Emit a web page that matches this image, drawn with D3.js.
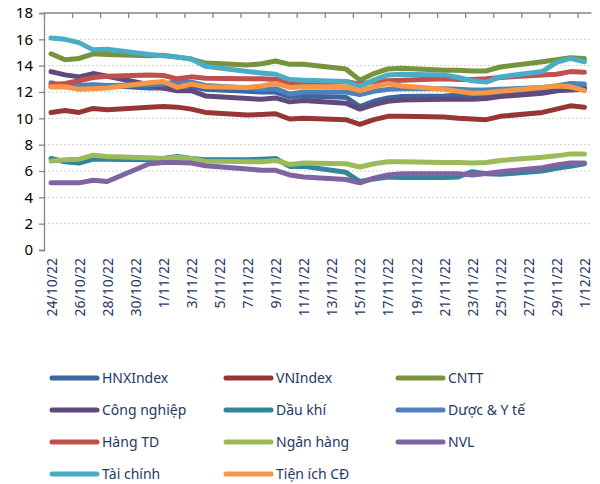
<!DOCTYPE html>
<html>
<head>
<meta charset="utf-8">
<script src="https://cdn.jsdelivr.net/npm/d3@7"></script>
<style>
  html, body { margin: 0; padding: 0; background: #ffffff; }
  svg { display: block; }
</style>
</head>
<body>
<svg id="chart" width="600" height="484"></svg>
<script>
// ---------- DATA ----------
const tradingDates = [
  "2022-10-24","2022-10-25","2022-10-26","2022-10-27","2022-10-28",
  "2022-10-31","2022-11-01","2022-11-02","2022-11-03","2022-11-04",
  "2022-11-07","2022-11-08","2022-11-09","2022-11-10","2022-11-11",
  "2022-11-14","2022-11-15","2022-11-16","2022-11-17","2022-11-18",
  "2022-11-21","2022-11-22","2022-11-23","2022-11-24","2022-11-25",
  "2022-11-28","2022-11-29","2022-11-30","2022-12-01"
];

const seriesNames = ["HNXIndex","VNIndex","CNTT","Công nghiệp","Dầu khí","Dược & Y tế",
  "Hàng TD","Ngân hàng","NVL","Tài chính","Tiện ích CĐ"];

const hnxIndex   = [12.4,12.4,12.5,12.55,12.5,12.3,12.3,12.6,12.4,12.2,12.05,12.0,12.0,11.65,11.7,11.6,10.9,11.3,11.55,11.65,11.7,11.75,11.75,11.8,11.85,12.0,12.1,12.3,12.35];
const vnIndex    = [10.45,10.6,10.45,10.75,10.65,10.85,10.9,10.85,10.7,10.45,10.25,10.3,10.35,9.95,10.0,9.9,9.55,9.9,10.15,10.15,10.1,10.0,9.95,9.9,10.15,10.45,10.7,10.95,10.85];
const cntt       = [14.9,14.45,14.55,14.9,14.85,14.75,14.8,14.65,14.5,14.2,14.05,14.15,14.35,14.1,14.1,13.75,12.9,13.4,13.75,13.8,13.65,13.65,13.6,13.6,13.9,14.3,14.45,14.6,14.55];
const congNghiep = [13.55,13.3,13.15,13.4,13.2,12.55,12.3,12.1,12.1,11.7,11.5,11.45,11.55,11.25,11.35,11.15,10.7,11.05,11.3,11.4,11.45,11.45,11.45,11.5,11.65,11.9,12.1,12.15,12.2];
const dauKhi     = [6.95,6.7,6.6,6.9,6.9,6.85,6.95,7.1,6.95,6.85,6.85,6.9,6.95,6.35,6.35,5.9,5.2,5.4,5.55,5.5,5.5,5.55,5.95,5.8,5.75,6.0,6.2,6.35,6.55];
const duocYTe    = [12.7,12.45,12.5,12.5,12.5,12.55,12.6,12.8,12.75,12.5,12.3,12.2,12.25,11.85,12.0,12.0,11.8,12.05,12.2,12.25,12.25,12.2,12.15,12.15,12.2,12.35,12.45,12.65,12.6];
const hangTD     = [12.55,12.65,12.85,13.1,13.2,13.3,13.25,13.0,13.15,13.05,13.0,13.0,12.95,12.6,12.6,12.8,12.6,12.8,12.85,12.9,13.0,12.95,12.95,13.0,13.1,13.3,13.35,13.55,13.5];
const nganHang   = [6.75,6.85,6.9,7.2,7.1,7.0,6.95,7.05,6.95,6.75,6.7,6.7,6.8,6.5,6.6,6.55,6.3,6.55,6.7,6.7,6.65,6.65,6.6,6.65,6.8,7.05,7.15,7.3,7.3];
const nvl        = [5.1,5.1,5.1,5.3,5.2,6.55,6.65,6.65,6.6,6.4,6.15,6.05,6.05,5.7,5.55,5.35,5.1,5.45,5.7,5.8,5.8,5.8,5.7,5.8,5.95,6.25,6.45,6.6,6.6];
const taiChinh   = [16.1,16.0,15.75,15.2,15.25,14.85,14.75,14.65,14.5,13.95,13.55,13.45,13.35,12.95,12.9,12.8,12.45,12.9,13.3,13.35,13.3,13.1,12.85,12.75,13.15,13.55,14.25,14.55,14.3];
const tienIchCD  = [12.4,12.4,12.2,12.25,12.3,12.7,12.8,12.35,12.6,12.4,12.35,12.45,12.65,12.35,12.4,12.4,12.1,12.4,12.65,12.45,12.2,12.05,11.9,11.95,12.05,12.35,12.45,12.4,12.1];

const seriesColors = ["#3C669E","#953735","#77933C","#604A7B","#31859C","#4F81BD",
  "#C0504D","#9BBB59","#8064A2","#4BACC6","#F79646"];

const xTickDates = ["2022-10-24","2022-10-26","2022-10-28","2022-10-30","2022-11-01",
  "2022-11-03","2022-11-05","2022-11-07","2022-11-09","2022-11-11","2022-11-13",
  "2022-11-15","2022-11-17","2022-11-19","2022-11-21","2022-11-23","2022-11-25",
  "2022-11-27","2022-11-29","2022-12-01"];
const xTickLabels = ["24/10/22","26/10/22","28/10/22","30/10/22","1/11/22","3/11/22",
  "5/11/22","7/11/22","9/11/22","11/11/22","13/11/22","15/11/22","17/11/22","19/11/22",
  "21/11/22","23/11/22","25/11/22","27/11/22","29/11/22","1/12/22"];
const yTicks = [0,2,4,6,8,10,12,14,16,18];

// ---------- BUILD ----------
const seriesValues = [hnxIndex,vnIndex,cntt,congNghiep,dauKhi,duocYTe,hangTD,nganHang,nvl,taiChinh,tienIchCD];
const parse = d3.utcParse("%Y-%m-%d");
const dates = tradingDates.map(parse);
const series = seriesNames.map((name,i)=>({
  name, color: seriesColors[i],
  values: seriesValues[i].map((v,j)=>({date: dates[j], value: v}))
}));

const svg = d3.select("#chart");
const L = 44, R = 591.5, T = 13, B = 250;
const DAY = 864e5;
const x = d3.scaleUtc()
  .domain([parse("2022-10-24"), parse("2022-12-02")])
  .range([L, R]);
const y = d3.scaleLinear().domain([0,18]).range([B,T]);
const mid = d => new Date(d.getTime() + DAY/2);

// gridlines
svg.append("g").selectAll("line")
  .data(yTicks.filter(v => v>0 && v<18))
  .join("line")
  .attr("x1", L).attr("x2", R)
  .attr("y1", d=>y(d)).attr("y2", d=>y(d))
  .attr("stroke", "#d0d0d0").attr("stroke-width", 1)
  .attr("stroke-dasharray", "2,2");

// y axis
const yAxis = d3.axisLeft(y).tickValues(yTicks).tickSize(5).tickPadding(6).tickFormat(d3.format("d"));
const gy = svg.append("g").attr("transform", `translate(${L},0)`).call(yAxis);
gy.select(".domain").attr("stroke","#868686").attr("stroke-width",1.3);
gy.selectAll(".tick line").attr("stroke","#868686").attr("stroke-width",1.3);
gy.selectAll(".tick text").attr("fill","#000").style("font-family","'Noto Sans', sans-serif").style("font-size","15px");

// top category axis (ticks only, pointing down)
const tickBoundaries = d3.range(0,20).map(k => new Date(parse("2022-10-24").getTime() + k*2*DAY));
const xAxisTop = d3.axisBottom(x).tickValues(tickBoundaries).tickSize(5).tickFormat("");
const gx = svg.append("g").attr("transform", `translate(0,${T})`).call(xAxisTop);
gx.select(".domain").attr("stroke","#868686").attr("stroke-width",1.3)
  .attr("d", `M${L},0H${R}`);
gx.selectAll(".tick line").attr("stroke","#868686").attr("stroke-width",1.3);

// bottom labels
const xLabelAxis = d3.axisBottom(x).tickValues(xTickDates.map(s=>mid(parse(s))))
  .tickSize(0).tickFormat((d,i)=>xTickLabels[i]);
const gxl = svg.append("g").attr("transform", `translate(0,${B})`).call(xLabelAxis);
gxl.select(".domain").remove();
gxl.selectAll(".tick text")
  .attr("transform","rotate(-90)")
  .attr("x", -8).attr("y", 0).attr("dy","0.36em")
  .attr("text-anchor","end")
  .attr("fill","#1F3864")
  .style("font-family","'Noto Sans', sans-serif").style("font-size","14px");

// lines
const line = d3.line().x(d=>x(mid(d.date))).y(d=>y(d.value));
svg.append("g").selectAll("path")
  .data(series).join("path")
  .attr("d", d=>line(d.values))
  .attr("fill","none")
  .attr("stroke", d=>d.color)
  .attr("stroke-width", 5)
  .attr("stroke-linejoin","round")
  .attr("stroke-linecap","round");

// legend
const colX = [52, 226, 398];
const rowY = [378, 410, 442, 474];
const lg = svg.append("g").selectAll("g").data(series).join("g")
  .attr("transform", (d,i)=>`translate(${colX[i%3]},${rowY[Math.floor(i/3)]})`);
lg.append("line").attr("x1",0).attr("x2",45).attr("y1",0).attr("y2",0)
  .attr("stroke", d=>d.color).attr("stroke-width",5).attr("stroke-linecap","round");
lg.append("text").attr("x",50).attr("y",0).attr("dy","0.35em")
  .attr("fill","#1F3864")
  .style("font-family","'Noto Sans', sans-serif").style("font-size","14px")
  .text(d=>d.name);
</script>
</body>
</html>
